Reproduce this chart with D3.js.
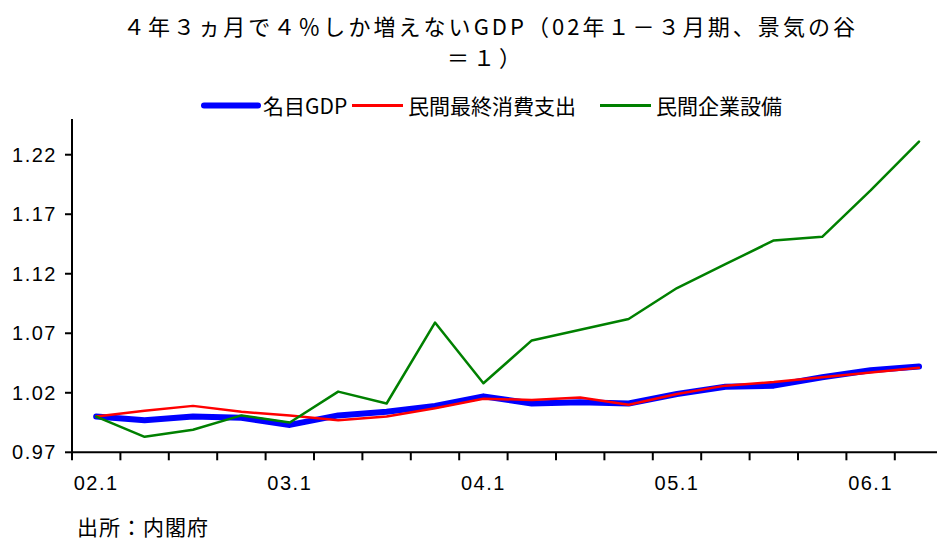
<!DOCTYPE html>
<html>
<head>
<meta charset="utf-8">
<script src="https://cdn.jsdelivr.net/npm/d3@7"></script>
<style>
  body { margin: 0; background: #fff; }
  svg { display: block; }
  .cjk { font-family: "Noto Sans CJK JP", sans-serif; fill: #000; }
  .num { font-family: "Liberation Sans", Arial, sans-serif; font-size: 20px; letter-spacing: 1.5px; fill: #000; }
</style>
</head>
<body>
<div id="chart"></div>
<script>
// quarters 02.1 .. 06.2, index: 2002 Q1 = 1
const quarters = ['02.1', '02.2', '02.3', '02.4', '03.1', '03.2', '03.3', '03.4', '04.1',
  '04.2', '04.3', '04.4', '05.1', '05.2', '05.3', '05.4', '06.1', '06.2'];
const nominalGDP = [1.000, 0.997, 1.000, 0.999, 0.993, 1.001, 1.004, 1.009, 1.017,
  1.011, 1.012, 1.011, 1.019, 1.025, 1.026, 1.033, 1.039, 1.042];
const consumption = [1.000, 1.005, 1.009, 1.004, 1.001, 0.997, 1.000, 1.007, 1.015,
  1.014, 1.016, 1.010, 1.019, 1.026, 1.029, 1.033, 1.037, 1.041];
const investment = [1.000, 0.983, 0.989, 1.001, 0.995, 1.021, 1.011, 1.079, 1.028,
  1.064, 1.073, 1.082, 1.108, 1.128, 1.148, 1.151, 1.190, 1.231];
const yTicks = [0.97, 1.02, 1.07, 1.12, 1.17, 1.22];
const seriesNames = ['名目GDP', '民間最終消費支出', '民間企業設備'];

const width = 937, height = 540;
const plotLeft = 72, plotBottom = 452.3, plotTop = 119;

const series = [
  { name: seriesNames[0], values: nominalGDP, color: '#0000ff', w: 6 },
  { name: seriesNames[1], values: consumption, color: '#ff0000', w: 2.5 },
  { name: seriesNames[2], values: investment, color: '#008000', w: 2.5 }
];

const svg = d3.select('#chart').append('svg')
  .attr('width', width)
  .attr('height', height);

const x = d3.scaleBand()
  .domain(quarters)
  .range([plotLeft, plotLeft + quarters.length * 48.4])
  .padding(0);

const y = d3.scaleLinear()
  .domain([0.97, 1.25])
  .range([plotBottom, plotTop]);

const cx = q => x(q) + x.bandwidth() / 2;

// title
const title = svg.append('text')
  .attr('class', 'cjk')
  .attr('text-anchor', 'middle')
  .style('font-size', '22px');
title.append('tspan')
  .attr('x', 489).attr('y', 35)
  .attr('textLength', 732)
  .attr('lengthAdjust', 'spacing')
  .text('４年３ヵ月で４％しか増えないGDP（02年１－３月期、景気の谷');
title.append('tspan')
  .attr('x', 486).attr('y', 66)
  .style('letter-spacing', '4px')
  .text('＝１）');

// legend (symbol start positions)
const legendX = [204, 352, 600];
const legend = svg.append('g');
series.forEach((s, i) => {
  const len = i === 0 ? 54 : 51;
  legend.append('line')
    .attr('x1', legendX[i]).attr('x2', legendX[i] + len)
    .attr('y1', 105.5).attr('y2', 105.5)
    .attr('stroke', s.color)
    .attr('stroke-width', i === 0 ? 6 : 3)
    .attr('stroke-linecap', i === 0 ? 'round' : 'butt');
  legend.append('text')
    .attr('class', 'cjk')
    .attr('x', legendX[i] + len + 5)
    .attr('y', 114)
    .style('font-size', '21px')
    .text(s.name);
});

// y axis
svg.append('line')
  .attr('x1', plotLeft).attr('x2', plotLeft)
  .attr('y1', plotTop).attr('y2', plotBottom + 1)
  .attr('stroke', '#000').attr('stroke-width', 2);

const yt = svg.append('g').selectAll('g')
  .data(yTicks)
  .enter().append('g');
yt.append('line')
  .attr('x1', plotLeft - 7).attr('x2', plotLeft)
  .attr('y1', d => y(d)).attr('y2', d => y(d))
  .attr('stroke', '#000').attr('stroke-width', 2);
yt.append('text')
  .attr('class', 'num')
  .attr('x', 57)
  .attr('y', d => y(d) + 7)
  .attr('text-anchor', 'end')
  .text(d => d3.format('.2f')(d));

// x axis
svg.append('line')
  .attr('x1', plotLeft - 1).attr('x2', width)
  .attr('y1', plotBottom).attr('y2', plotBottom)
  .attr('stroke', '#000').attr('stroke-width', 2);

svg.append('g').selectAll('line')
  .data(quarters)
  .enter().append('line')
  .attr('x1', d => x(d)).attr('x2', d => x(d))
  .attr('y1', plotBottom).attr('y2', plotBottom + 8)
  .attr('stroke', '#000').attr('stroke-width', 2);

svg.append('g').selectAll('text')
  .data(quarters.filter(q => q.endsWith('.1')))
  .enter().append('text')
  .attr('class', 'num')
  .attr('x', d => cx(d))
  .attr('y', 490)
  .attr('text-anchor', 'middle')
  .text(d => d);

// lines
const line = d3.line()
  .x((d, i) => cx(quarters[i]))
  .y(d => y(d));

svg.append('g').selectAll('path')
  .data(series)
  .enter().append('path')
  .attr('d', d => line(d.values))
  .attr('fill', 'none')
  .attr('stroke', d => d.color)
  .attr('stroke-width', d => d.w)
  .attr('stroke-linejoin', 'round')
  .attr('stroke-linecap', 'round');

// source
svg.append('text')
  .attr('class', 'cjk')
  .attr('x', 77)
  .attr('y', 535)
  .style('font-size', '21px')
  .style('letter-spacing', '1px')
  .text('出所：内閣府');
</script>
</body>
</html>
